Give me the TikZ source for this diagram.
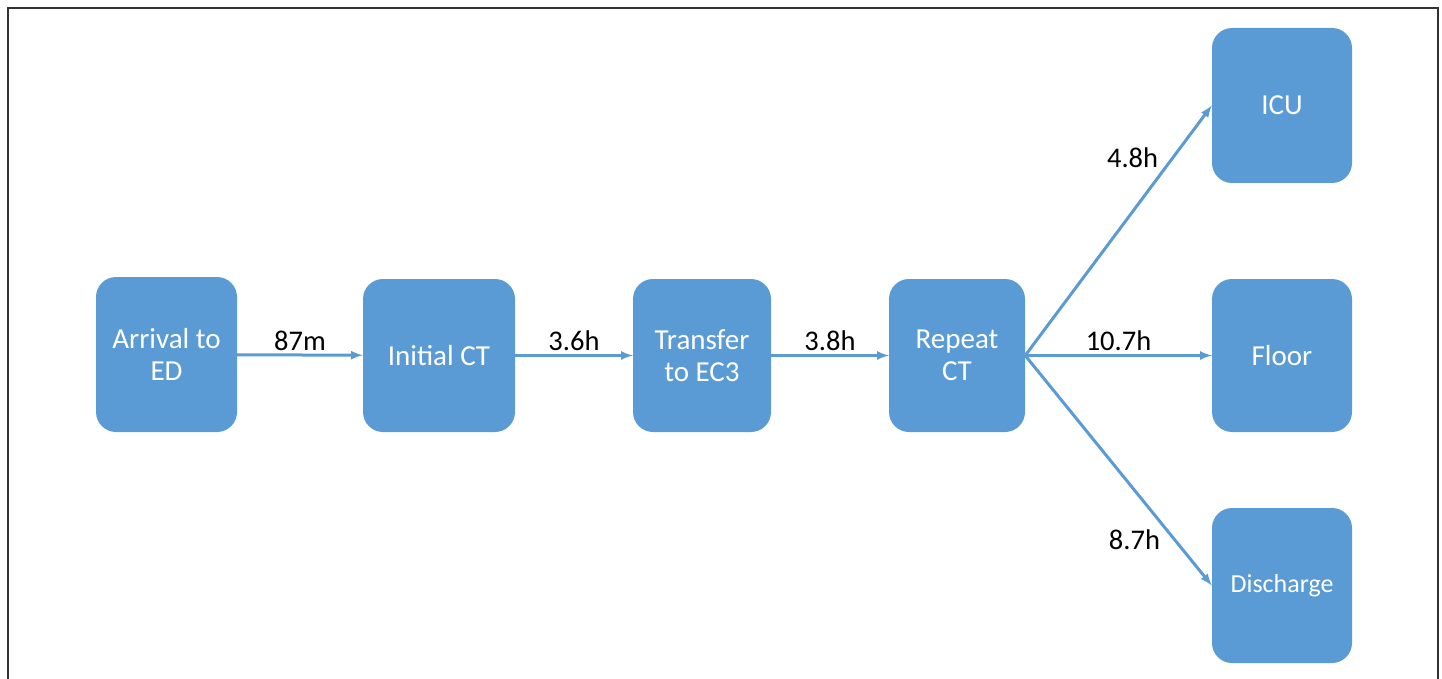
\documentclass[tikz,border=0pt]{standalone}
\usepackage{fontspec}
\setmainfont{Carlito}
\usetikzlibrary{arrows}
\definecolor{boxblue}{HTML}{5B9BD5}

\begin{document}
\begin{tikzpicture}[x=1pt,y=-1pt,>=latex,
    stage/.style={fill=boxblue,rounded corners=20pt,text=white,align=center,
      font=\fontsize{29}{32}\selectfont,inner sep=0pt},
    flow/.style={->,draw=boxblue,line width=3pt},
    lbl/.style={font=\fontsize{28.5}{32}\selectfont,text=black,inner sep=3pt}]
    \useasboundingbox (0,0) rectangle (1442,679);
    \draw [line width=2pt,black!80] (8,679)--(8,8)--(1438,8)--(1438,679);
    \node (arrival) at (166.5,354.5) [stage,minimum width=141pt,minimum height=155pt] {Arrival to\\ED};
    \node (initial) at (439,355.5) [stage,minimum width=152pt,minimum height=153pt] {Initial CT};
    \node (transfer) at (702,355.5) [stage,minimum width=138pt,minimum height=153pt] {Transfer\\to EC3};
    \node (repeat) at (957,355.5) [stage,minimum width=136pt,minimum height=153pt] {Repeat\\CT};
    \node (icu) at (1282,105.5) [stage,minimum width=140pt,minimum height=155pt] {ICU};
    \node (floor) at (1282,355.5) [stage,minimum width=140pt,minimum height=153pt] {Floor};
    \node (discharge) at (1282,585.5) [stage,minimum width=140pt,minimum height=155pt,
      font=\fontsize{26}{30}\selectfont] {Discharge};
    \draw [flow] (arrival) -- (initial) node [lbl,midway,above] (t1) {87m};
    \draw [flow] (initial) -- (transfer) node [lbl,midway,above] (t2) {3.6h};
    \draw [flow] (transfer) -- (repeat) node [lbl,midway,above] (t3) {3.8h};
    \draw [flow] (repeat) -- (floor) node [lbl,midway,above] (t4) {10.7h};
    \draw [flow] (repeat.east) -- (icu.west) node [lbl,pos=0.79,left=10pt] (t5) {4.8h};
    \draw [flow] (repeat.east) -- (discharge.west) node [lbl,pos=0.8,left=10pt] (t6) {8.7h};
  \end{tikzpicture}
\end{document}
